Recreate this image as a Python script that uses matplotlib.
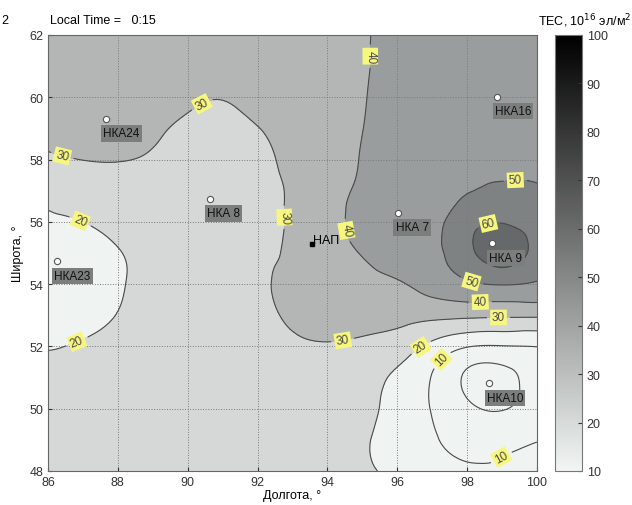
import numpy as np
import matplotlib
matplotlib.use('Agg')
import matplotlib.pyplot as plt
import matplotlib.tri as mtri
from matplotlib.colors import LinearSegmentedColormap, Normalize
import matplotlib.cm as cm

plt.rcParams['font.family'] = ['Liberation Sans', 'DejaVu Sans']

# TEC values, 1 degree nodes
lon_nodes = [86, 87, 88, 89, 90, 91, 92, 93, 94, 95, 96, 97, 98, 99, 100]
lat_nodes = [62, 61, 60, 59, 58, 57, 56, 55, 54, 53, 52, 51, 50, 49, 48]
tec = [
    [34, 35, 35, 34, 33, 33, 34, 35, 37, 39.3, 42, 43, 44, 45, 45],
    [34, 35, 35, 34, 32, 32, 33, 35, 37, 39.4, 42, 44, 45, 46, 46],
    [34, 35, 35, 33, 31, 30.2, 32, 34.5, 37, 39.6, 42.5, 44.5, 46, 47, 47],
    [32, 34, 33.5, 31.2, 28.8, 28, 29.8, 33, 36.5, 39.9, 43, 45, 46.5, 47.5, 48],
    [28.8, 30.1, 30.3, 29.2, 27, 26, 28, 32, 36.3, 40.4, 43.5, 46, 48, 48, 48.5],
    [22.5, 25, 26.5, 27, 26, 26, 28, 31, 36.8, 41.3, 45, 47.5, 49.5, 51.5, 50.8],
    [18.5, 20, 23, 25.5, 26, 26.5, 28, 31, 37.2, 42.5, 46.5, 47.5, 56, 59.5, 55],
    [14, 16, 19.5, 23, 25, 26.5, 28.8, 31, 36, 40.5, 45, 48, 57, 65, 56],
    [13, 15, 19, 23, 25.5, 27, 29, 31.5, 34, 37, 39, 44, 48.5, 50.5, 49],
    [14.5, 16.5, 20.3, 23.5, 25.5, 27, 28.5, 31, 33, 33.5, 33, 32.5, 32, 31.5, 31.5],
    [19.5, 21, 23, 24.5, 25.5, 26.5, 27.5, 28.8, 29.3, 28, 25, 17.5, 10.5, 9.5, 10.2],
    [21.5, 23, 24, 25, 25.5, 26, 26.5, 26.5, 25.5, 23, 18.5, 9.5, -1.5, -3, 5],
    [23, 24, 24.5, 25, 25.5, 25.5, 25.5, 25, 24, 22, 17, 9.5, 2, -0.5, 5],
    [24, 24.5, 25, 25, 25, 25, 25, 24.5, 23, 21, 16, 11, 7, 7.5, 9.7],
    [24, 24.5, 25, 25, 25, 25, 24.5, 24, 22.5, 21, 18, 13.5, 11.5, 11, 12.5],
]

station_names = ['НКА24', 'НКА16', 'НКА 8', 'НКА 7', 'НКА 9', 'НКА23', 'НКА10']
station_lon = [87.66, 98.87, 90.64, 96.03, 98.72, 86.26, 98.64]
station_lat = [59.30, 60.01, 56.73, 56.28, 55.31, 54.73, 50.81]
nap_lon = 93.56
nap_lat = 55.28

levels = [-10, 0, 10, 20, 30, 40, 50, 60, 80]
band_colors = ['#eff3f1', '#eff3f1', '#eff3f1', '#d5d8d7', '#b3b6b5',
               '#9a9d9d', '#7f8282', '#666969']
line_levels = [0, 10, 20, 30, 40, 50, 60]

fig = plt.figure(figsize=(6.32, 5.06), dpi=100)
ax = fig.add_axes([0.0759, 0.0672, 0.7737, 0.8617])
cax = fig.add_axes([0.878, 0.0672, 0.0427, 0.8617])

LON, LAT = np.meshgrid(lon_nodes, lat_nodes)
tri = mtri.Triangulation(LON.ravel(), LAT.ravel())
refiner = mtri.UniformTriRefiner(tri)
tri_f, z_f = refiner.refine_field(np.array(tec).ravel(), subdiv=3)

ax.tricontourf(tri_f, z_f, levels=levels, colors=band_colors)
cs = ax.tricontour(tri_f, z_f, levels=line_levels, colors='#4a4a4a',
                   linewidths=0.8)

label_pos = [(90.36, 59.88), (86.4, 58.08), (86.97, 56.15), (86.86, 52.06),
             (92.79, 56.15), (95.23, 61.32), (94.42, 55.7), (99.38, 57.37),
             (98.6, 55.99), (98.09, 53.93), (98.38, 53.35), (98.9, 52.93),
             (94.45, 52.13), (96.72, 51.9), (97.32, 51.52), (99.0, 48.4)]
labels = ax.clabel(cs, line_levels, manual=label_pos, inline=True,
                   fontsize=8.5, fmt='%d')
for t in labels:
    t.set_bbox(dict(boxstyle='square,pad=0.15', fc='#f7f77f', ec='none'))

ax.plot(station_lon, station_lat, 'o', ms=4.5, mfc='white', mec='#555555',
        mew=0.8, zorder=5)
for name, x, y in zip(station_names, station_lon, station_lat):
    ax.annotate(name, (x, y), xytext=(-2, -6), textcoords='offset points',
                ha='left', va='top', fontsize=8.5, color='#111111', zorder=6,
                bbox=dict(boxstyle='square,pad=0.18', fc='#7c7e7e', ec='none'),
                annotation_clip=False)

ax.plot([nap_lon], [nap_lat], 's', ms=3, color='black', zorder=5)
ax.annotate('НАП', (nap_lon, nap_lat), xytext=(1, -1.5),
            textcoords='offset points', ha='left', va='bottom', fontsize=9,
            color='black', zorder=6)

ax.set_xlim(86, 100)
ax.set_ylim(48, 62)
ax.set_xticks(range(86, 101, 2))
ax.set_yticks(range(48, 63, 2))
ax.grid(True, linestyle=':', color='#7a7a7a', linewidth=0.7)
ax.tick_params(direction='in', length=3, labelsize=9, colors='#333333')
for s in ax.spines.values():
    s.set_color('#666666')
    s.set_linewidth(0.8)
ax.set_xlabel('Долгота, °', fontsize=9, labelpad=1)
ax.set_ylabel('Широта, °', fontsize=9, labelpad=4)

cmap = LinearSegmentedColormap.from_list('tec', ['#f1f5f3', '#000000'])
sm = cm.ScalarMappable(norm=Normalize(10, 100), cmap=cmap)
cb = fig.colorbar(sm, cax=cax, ticks=range(10, 101, 10))
cb.outline.set_edgecolor('#777777')
cb.outline.set_linewidth(0.8)
cax.tick_params(direction='in', length=3, labelsize=9, colors='#333333')

fig.text(0.079, 0.958, 'Local Time =   0:15', fontsize=9, va='center')
fig.text(0.002, 0.958, '2', fontsize=9, va='center')
fig.text(0.851, 0.958, 'TEC, 10$^{16}$ эл/м$^2$', fontsize=9, va='center')

fig.savefig('out.png', dpi=100)
